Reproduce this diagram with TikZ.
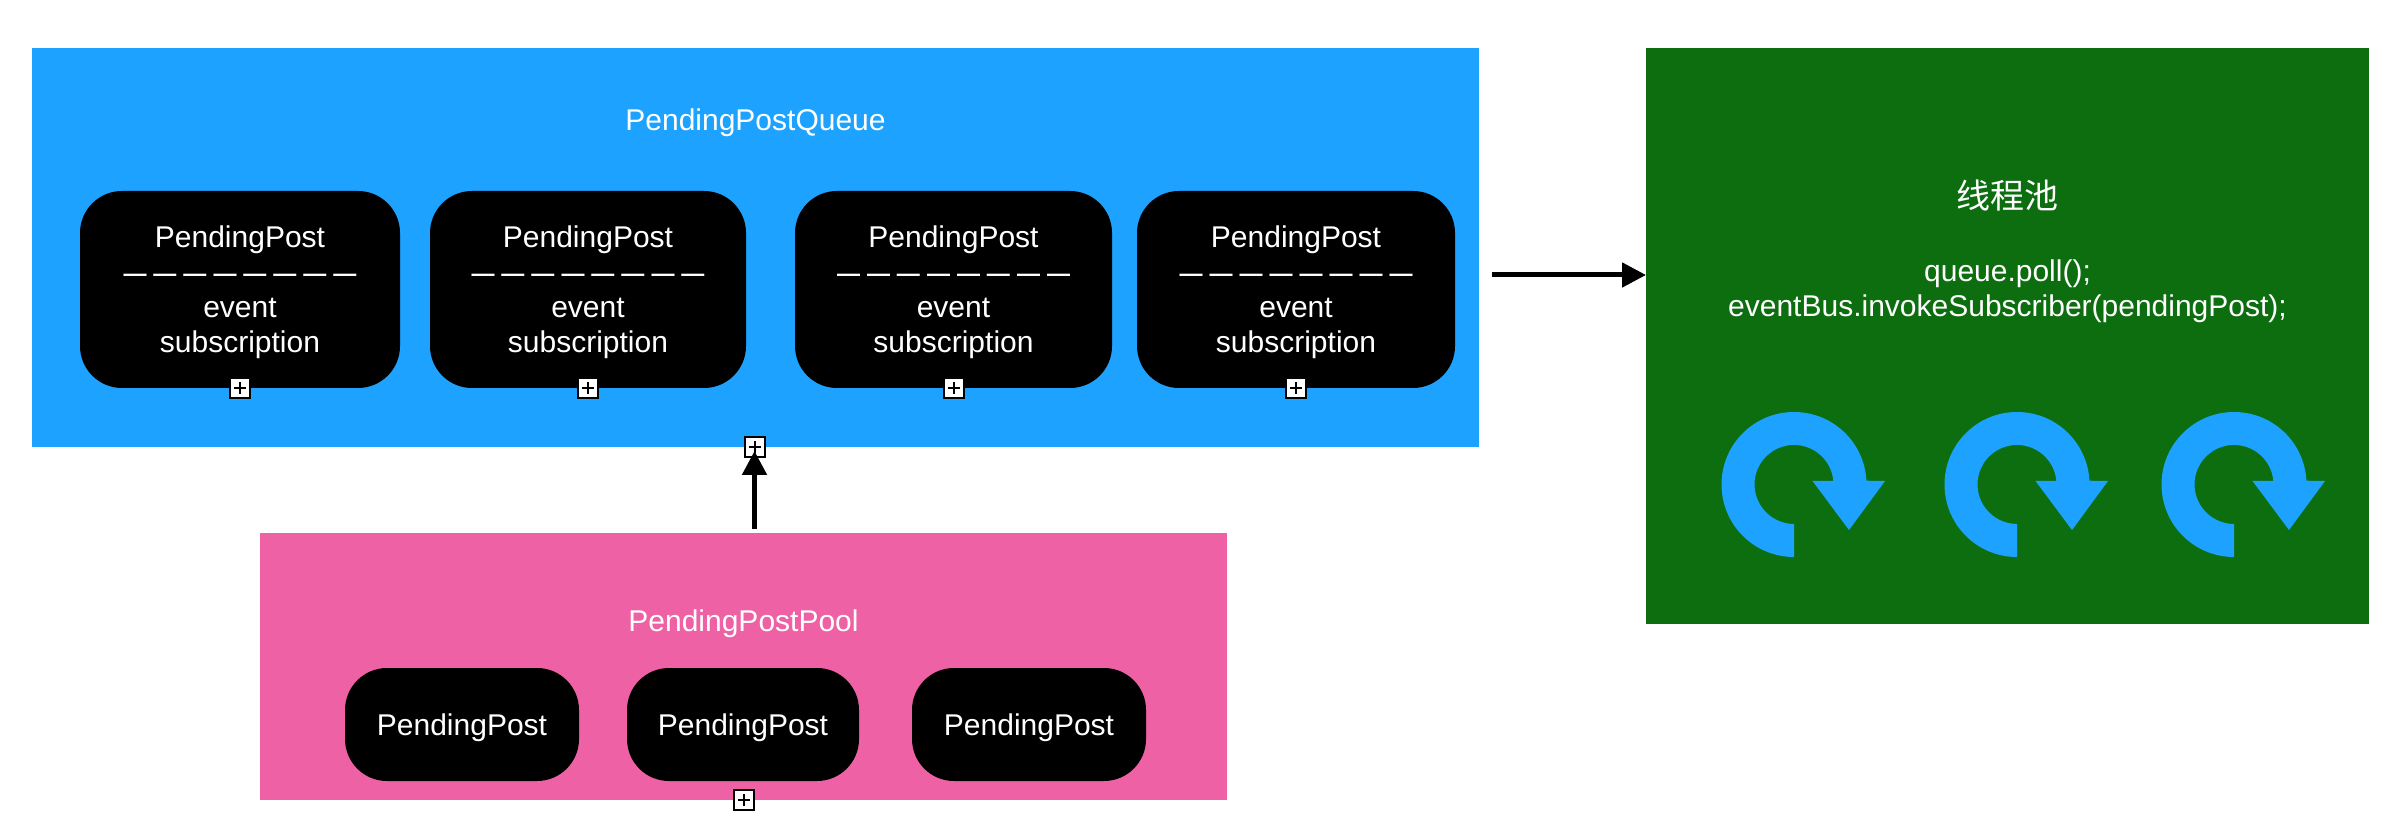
\documentclass[tikz,border=0pt]{standalone}
\usepackage{fontspec}
\setmainfont{Liberation Sans}
\newfontfamily\cjkfont{Noto Sans CJK SC}
\usetikzlibrary{arrows.meta}

\definecolor{queueblue}{RGB}{29,163,255}
\definecolor{poolpink}{RGB}{238,97,164}
\definecolor{threadgreen}{RGB}{13,110,16}

\newcommand{\dashbar}{\makebox[15pt]{\raisebox{0.6pt}{\fontsize{11.5}{11.5}\selectfont\bfseries —}}}
\newcommand{\dashrow}{\dashbar\dashbar\dashbar\dashbar\dashbar\dashbar\dashbar\dashbar}
\newcommand{\postname}{\rule{0pt}{14pt}PendingPost}

\tikzset{
  areabox/.style={rectangle, inner sep=0pt, outer sep=0pt},
  postbox/.style={rectangle, fill=black, text=white, rounded corners=21pt, inner sep=0pt, outer sep=0pt, align=center},
  labeltext/.style={text=white, inner sep=0pt, align=center},
  plusbox/.style={rectangle, draw=black, line width=1pt, fill=white, minimum size=10pt, inner sep=0pt, outer sep=0pt,
    path picture={\draw[black, line width=1pt] (path picture bounding box.center) +(-3pt,0) -- +(3pt,0)
      (path picture bounding box.center) +(0,-3pt) -- +(0,3pt);}},
  flowline/.style={draw=black, line width=2.5pt, -{Triangle[length=12pt,width=12pt]}},
  spinarrow/.style={fill=queueblue}
}

\begin{document}
\begin{tikzpicture}[x=0.5pt, y=0.5pt, font=\fontsize{15}{17.5}\selectfont]
   \useasboundingbox (0,0) rectangle (2402,830);

   % the three areas
   \node [areabox, fill=queueblue, minimum width=723.5pt, minimum height=199.5pt] (queue) at (755.5,582.5) {};
   \node [areabox, fill=poolpink, minimum width=483.5pt, minimum height=133.5pt] (pool) at (743.5,163.5) {};
   \node [areabox, fill=threadgreen, minimum width=361.5pt, minimum height=288pt] (thread) at (2007.5,494) {};

   \node [labeltext, anchor=base] (queuetitle) at (755.5,699.5) {PendingPostQueue};
   \node [labeltext, anchor=base] (pooltitle) at (743.5,198.5) {PendingPostPool};

   \foreach [count=\i] \x/\w in {240/160, 588/158, 953.5/158.5, 1296/159} {
     \node [postbox, minimum width=\w pt, minimum height=98.5pt] (post\i) at (\x,540.5)
        {\postname\\\dashrow\\event\\subscription};
     \node [plusbox] (postplus\i) at (post\i.south) {};
   }

   \foreach [count=\i] \x/\w in {462/117, 743/116, 1029/117}
     \node [postbox, minimum width=\w pt, minimum height=56.5pt] (free\i) at (\x,105.5) {\postname};

   \node [plusbox, xshift=-0.5pt] (queueplus) at (queue.south) {};
   \node [plusbox] (poolplus) at (pool.south) {};

   \node [labeltext, font=\fontsize{17}{20}\selectfont\cjkfont] (threadname) at (2007.5,634.5) {线程池};
   \node [labeltext] (threadcode) at (2007.5,539) {queue.poll();\\eventBus.invokeSubscriber(pendingPost);};

   % connectors
   \coordinate (poolout) at (queueplus |- 0,301);
   \coordinate (queueout) at (1492,555);
   \draw [flowline, shorten >=2pt] (poolout) -- (queueplus.center);
   \draw [flowline] (queueout) -- (queueout -| thread.west);

   % running threads
   \foreach \x in {1794, 2017, 2234}
     \fill [spinarrow] (\x,345.5) ++(-90:36.25pt) arc [start angle=-90, end angle=-357, radius=36.25pt]
        -- (\x+91,349) -- (\x+55,300) -- (\x+18.5,349) -- (\x+39.35,349)
        arc [start angle=-355, end angle=-90, radius=19.75pt] -- cycle;
\end{tikzpicture}
\end{document}
